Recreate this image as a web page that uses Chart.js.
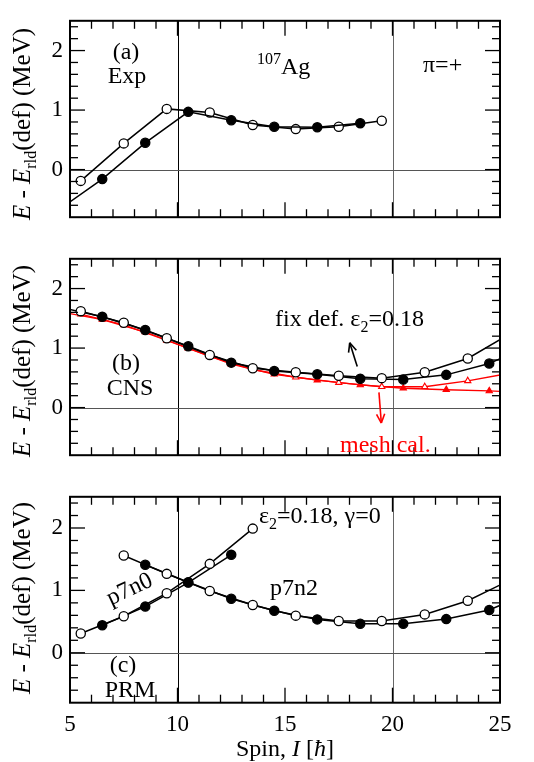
<!DOCTYPE html>
<html><head><meta charset="utf-8">
<script src="https://cdn.jsdelivr.net/npm/chart.js@4"></script>
<style>
html,body{margin:0;padding:0;background:#fff;}
#wrap{position:relative;width:534px;height:762px;overflow:hidden;font-family:"Liberation Serif","Times New Roman",serif;}
canvas{position:absolute;left:0;}
.t{position:absolute;font-size:24px;line-height:24px;white-space:nowrap;color:#000;}
.c{transform:translateX(-50%);}
.sb{position:relative;top:6px;font-size:16px;}
.sp{position:relative;top:-10px;font-size:16px;}
.yt{position:absolute;left:23px;font-size:25px;line-height:25px;white-space:nowrap;transform:translate(-50%,-50%) rotate(-90deg);}
</style></head><body>
<div id="wrap">
<canvas id="ca" width="534" height="238" style="top:0;width:534px;height:238px"></canvas>
<canvas id="cb" width="534" height="238" style="top:238px;width:534px;height:238px"></canvas>
<canvas id="cc" width="534" height="286" style="top:476px;width:534px;height:286px"></canvas>

<div class="yt" style="top:124px"><i>E</i> - <i>E</i><span class="sb">rld</span>(def) (MeV)</div>
<div class="yt" style="top:361px"><i>E</i> - <i>E</i><span class="sb">rld</span>(def) (MeV)</div>
<div class="yt" style="top:598px"><i>E</i> - <i>E</i><span class="sb">rld</span>(def) (MeV)</div>

<div class="t c" style="left:126px;top:39px">(a)</div>
<div class="t c" style="left:127px;top:63px">Exp</div>
<div class="t" style="left:257px;top:54px"><span class="sp">107</span>Ag</div>
<div class="t" style="left:423px;top:52px">&pi;=+</div>

<div class="t c" style="left:126px;top:350px">(b)</div>
<div class="t c" style="left:130px;top:375px">CNS</div>
<div class="t" style="left:275px;top:306px">fix def. &epsilon;<span class="sb">2</span>=0.18</div>
<div class="t" style="left:340px;top:432px;color:#ff0000">mesh cal.</div>

<div class="t" style="left:259px;top:503px">&epsilon;<span class="sb">2</span>=0.18, &gamma;=0</div>
<div class="t" style="left:129px;top:588px;transform:translate(-50%,-50%) rotate(-25deg)">p7n0</div>
<div class="t" style="left:270px;top:575px">p7n2</div>
<div class="t c" style="left:123px;top:652px">(c)</div>
<div class="t c" style="left:130px;top:677px">PRM</div>
<div class="t c" style="left:285px;top:736px">Spin, <i>I</i> [<i>&#295;</i>]</div>
</div>
<script>
// ---------- data ----------
const spinTicks = [5, 10, 15, 20, 25];
const energyTicks = [0, 1, 2];
const spinLines = [10, 20];

// (a) Exp
const expOpenSpin   = [5.5, 7.5, 9.5, 11.5, 13.5, 15.5, 17.5, 19.5];
const expOpenE      = [-0.19, 0.44, 1.02, 0.96, 0.75, 0.68, 0.72, 0.82];
const expFilledSpin = [4.5, 6.5, 8.5, 10.5, 12.5, 14.5, 16.5, 18.5];
const expFilledE    = [-0.67, -0.16, 0.45, 0.97, 0.83, 0.72, 0.71, 0.78];

// (b) CNS fixed deformation (black)
const cnsOpenSpin   = [5.5, 7.5, 9.5, 11.5, 13.5, 15.5, 17.5, 19.5, 21.5, 23.5, 25.5];
const cnsOpenE      = [1.62, 1.425, 1.165, 0.885, 0.66, 0.595, 0.535, 0.495, 0.595, 0.825, 1.245];
const cnsFilledSpin = [4.5, 6.5, 8.5, 10.5, 12.5, 14.5, 16.5, 18.5, 20.5, 22.5, 24.5, 26.5];
const cnsFilledE    = [1.69, 1.525, 1.305, 1.03, 0.755, 0.615, 0.56, 0.485, 0.47, 0.55, 0.74, 1.06];
// (b) CNS mesh calculation (red)
const meshOpenSpin   = [5.5, 7.5, 9.5, 11.5, 13.5, 15.5, 17.5, 19.5, 21.5, 23.5, 25.5];
const meshOpenE      = [1.57, 1.39, 1.13, 0.86, 0.64, 0.51, 0.42, 0.35, 0.35, 0.45, 0.58];
const meshFilledSpin = [4.5, 6.5, 8.5, 10.5, 12.5, 14.5, 16.5, 18.5, 20.5, 22.5, 24.5, 26.5];
const meshFilledE    = [1.61, 1.48, 1.27, 1.00, 0.73, 0.56, 0.46, 0.38, 0.325, 0.30, 0.28, 0.25];

// (c) PRM p7n0
const p7n0OpenSpin   = [5.5, 7.5, 9.5, 11.5, 13.5];
const p7n0OpenE      = [0.31, 0.585, 0.955, 1.425, 1.99];
const p7n0FilledSpin = [6.5, 8.5, 10.5, 12.5];
const p7n0FilledE    = [0.44, 0.74, 1.125, 1.57];
// (c) PRM p7n2
const p7n2OpenSpin   = [7.5, 9.5, 11.5, 13.5, 15.5, 17.5, 19.5, 21.5, 23.5, 25.5];
const p7n2OpenE      = [1.56, 1.265, 0.99, 0.765, 0.595, 0.51, 0.51, 0.615, 0.835, 1.17];
const p7n2FilledSpin = [8.5, 10.5, 12.5, 14.5, 16.5, 18.5, 20.5, 22.5, 24.5, 26.5];
const p7n2FilledE    = [1.41, 1.13, 0.865, 0.675, 0.535, 0.465, 0.465, 0.54, 0.685, 0.985];

// annotation arrows [spin, E] tail -> head
const fixArrow  = [[18.36, 0.69], [18.01, 1.09]];
const meshArrow = [[19.37, 0.255], [19.48, -0.26]];

// ---------- drawing ----------
const FONT = '"Liberation Serif","Times New Roman",serif';

function pts(xs, ys){ return xs.map((s,i)=>({x:s, y:ys[i]})); }
function blackSeries(xs, ys, filled){
  return { data: pts(xs, ys), showLine:true, clip:0, borderColor:'#000', borderWidth:1.5,
    pointRadius:4.6, pointBorderWidth:1.3, pointBorderColor:'#000',
    pointBackgroundColor: filled ? '#000' : '#fff', pointStyle:'circle' };
}
function redSeries(xs, ys, filled){
  return { data: pts(xs, ys), showLine:true, clip:0, borderColor:'#ff0000', borderWidth:1.3,
    pointRadius:3.6, pointBorderWidth:1.1, pointBorderColor:'#ff0000',
    pointBackgroundColor: filled ? '#ff0000' : '#fff', pointStyle:'triangle' };
}

function seg(ctx, x1, y1, x2, y2){ ctx.beginPath(); ctx.moveTo(x1,y1); ctx.lineTo(x2,y2); ctx.stroke(); }

const framePlugin = {
  id: 'frame',
  beforeDatasetsDraw(chart){
    const {ctx, chartArea:a, scales:{x, y}} = chart;
    ctx.save();
    ctx.lineWidth = 1;
    spinLines.forEach((s,i)=>{
      ctx.strokeStyle = i===0 ? '#000' : '#666';
      const px = Math.round(x.getPixelForValue(s)) + 0.5;
      seg(ctx, px, a.top, px, a.bottom);
    });
    ctx.strokeStyle = '#555';
    const py = Math.round(y.getPixelForValue(0)) + 0.5;
    seg(ctx, a.left, py, a.right, py);
    ctx.restore();
  },
  afterDraw(chart, args, opts){
    const {ctx, chartArea:a, scales:{x, y}} = chart;
    ctx.save();
    ctx.strokeStyle = '#000';
    ctx.lineWidth = 1.3;
    for (let s = 6; s < 25; s++){
      const len = s % 5 === 0 ? 15 : 8;
      const px = x.getPixelForValue(s);
      seg(ctx, px, a.bottom, px, a.bottom - len);
      seg(ctx, px, a.top, px, a.top + len);
    }
    for (let k = -3; k <= 12; k++){
      const len = k % 5 === 0 ? 15 : 8;
      const py = y.getPixelForValue(k * 0.2);
      seg(ctx, a.left, py, a.left + len, py);
      seg(ctx, a.right, py, a.right - len, py);
    }
    ctx.lineWidth = 2;
    ctx.strokeRect(a.left, a.top, a.right - a.left, a.bottom - a.top);
    (opts.arrows || []).forEach(ar=>{
      const [t, h, col] = ar;
      const x1 = x.getPixelForValue(t[0]), y1 = y.getPixelForValue(t[1]);
      const x2 = x.getPixelForValue(h[0]), y2 = y.getPixelForValue(h[1]);
      ctx.strokeStyle = col; ctx.lineWidth = 1.6;
      seg(ctx, x1, y1, x2, y2);
      const ang = Math.atan2(y2 - y1, x2 - x1);
      const L = 10, w = 0.42;
      seg(ctx, x2, y2, x2 - L*Math.cos(ang - w), y2 - L*Math.sin(ang - w));
      seg(ctx, x2, y2, x2 - L*Math.cos(ang + w), y2 - L*Math.sin(ang + w));
    });
    ctx.restore();
  }
};

function makeChart(id, datasets, bottomPx, canvasH, topPad, showX, arrows){
  return new Chart(document.getElementById(id), {
    type: 'scatter',
    data: { datasets },
    plugins: [framePlugin],
    options: {
      responsive:false, animation:false, events:[],
      layout:{ padding:{ left:0, right:34, top:topPad, bottom:0 } },
      plugins:{ legend:{display:false}, tooltip:{enabled:false}, frame:{ arrows } },
      scales:{
        x:{ type:'linear', min:5, max:25,
          afterBuildTicks: s=>{ s.ticks = spinTicks.map(v=>({value:v})); },
          afterFit: s=>{ s.height = canvasH - bottomPx; },
          grid:{display:false, drawTicks:false}, border:{display:false},
          ticks:{ display:showX, color:'#000', font:{family:FONT, size:23}, padding:8, maxRotation:0 } },
        y:{ type:'linear', min:-0.8, max:2.5,
          afterBuildTicks: s=>{ s.ticks = energyTicks.map(v=>({value:v})); },
          afterFit: s=>{ s.width = 70; },
          grid:{display:false, drawTicks:false}, border:{display:false},
          ticks:{ color:'#000', font:{family:FONT, size:23}, padding:7 } }
      }
    }
  });
}

makeChart('ca', [
  blackSeries(expFilledSpin, expFilledE, true),
  blackSeries(expOpenSpin, expOpenE, false)
], 229, 238, 10, false, []);

makeChart('cb', [
  blackSeries(cnsOpenSpin, cnsOpenE, false),
  blackSeries(cnsFilledSpin, cnsFilledE, true),
  redSeries(meshOpenSpin, meshOpenE, false),
  redSeries(meshFilledSpin, meshFilledE, true)
], 228, 238, 8.7, false, [[fixArrow[0], fixArrow[1], '#000'], [meshArrow[0], meshArrow[1], '#ff0000']]);

makeChart('cc', [
  blackSeries(p7n0OpenSpin, p7n0OpenE, false),
  blackSeries(p7n0FilledSpin, p7n0FilledE, true),
  blackSeries(p7n2OpenSpin, p7n2OpenE, false),
  blackSeries(p7n2FilledSpin, p7n2FilledE, true)
], 226.7, 286, 8, true, []);
</script>
</body></html>
